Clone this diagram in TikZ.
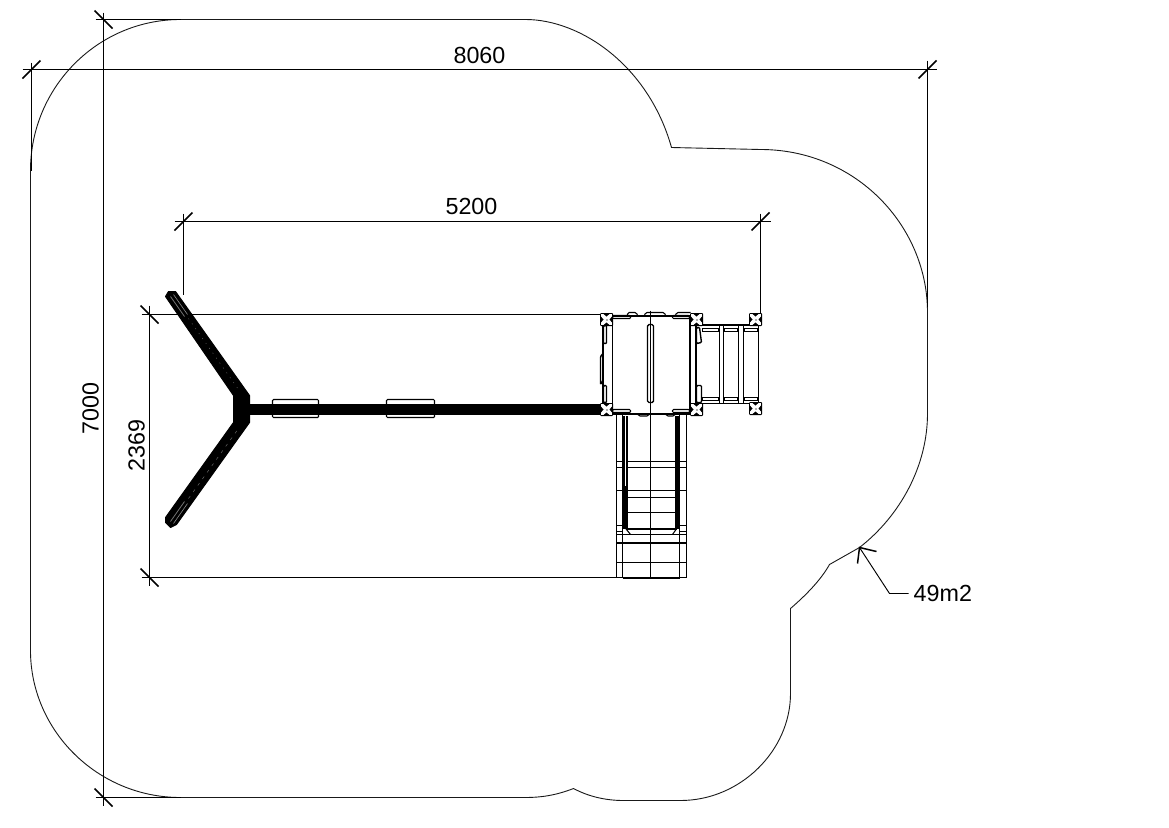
\documentclass[tikz,border=0pt]{standalone}
\usepackage{fontspec}
\setmainfont{Liberation Sans}
\tikzset{
 x=1pt,y=-1pt,
 thinl/.style={line width=0.95pt,black},
 outl/.style={line width=0.9pt,black!90},
 dimtick/.style={line width=1.6pt,black},
 dimtxt/.style={font=\fontsize{23.3}{25}\selectfont,inner sep=0pt},
 heavy/.style={line width=2pt,black},
 med/.style={line width=1.4pt,black},
 fine/.style={line width=1.05pt,black},
}
\newcommand{\corner}[2]{%
 \fill[black,rounded corners=1pt] (#1-6.5,#2-6.5) rectangle (#1+6.5,#2+6.5);
 \fill[white] (#1-5.6,#2-5.6) rectangle (#1+5.6,#2+5.6);
 \fill[black] (#1-3,#2-5.6) -- (#1,#2-3) -- (#1+3,#2-5.6) -- cycle;
 \fill[black] (#1-3,#2+5.6) -- (#1,#2+3) -- (#1+3,#2+5.6) -- cycle;
 \fill[black] (#1-5.6,#2-3) -- (#1-3,#2) -- (#1-5.6,#2+3) -- cycle;
 \fill[black] (#1+5.6,#2-3) -- (#1+3,#2) -- (#1+5.6,#2+3) -- cycle;
 \fill[black!30] (#1-1,#2-1) rectangle (#1+1,#2+1);}
\newcommand{\dtick}[2]{\draw[dimtick] (#1-9,#2+9) -- (#1+9,#2-9);}
\newcommand{\dtickb}[2]{\draw[dimtick] (#1-9,#2-9) -- (#1+9,#2+9);}
\begin{document}
\begin{tikzpicture}
\useasboundingbox (-0.5,-0.5) rectangle (1168.5,826.5);
\fill[white] (-0.5,-0.5) rectangle (1168.5,826.5);
% safety zone outline
\draw[outl] (30,170) .. controls (30,87) and (97,19) .. (180,19) -- (525,19)
 .. controls (580,19) and (648,65) .. (671,147) -- (760,149)
 .. controls (855,149) and (927,225) .. (927,312) -- (927,413)
 .. controls (927,465) and (900,515) .. (859,547)
 -- (829,564) .. controls (820,580) and (805,595) .. (790,608) -- (790,693)
 .. controls (790,750) and (740,800) .. (680,800) -- (623,800)
 .. controls (605,800) and (588,796) .. (573,788)
 .. controls (555,795) and (540,797) .. (525,797) -- (180,797)
 .. controls (97,797) and (30,730) .. (30,650) -- cycle;
% dimensions
\coordinate (a1) at (22,69); \coordinate (a2) at (936,69);
\draw[thinl] (a1) -- (a2);
\draw[thinl] (31,62) -- (31,170);
\draw[thinl] (927,60) -- (927,306);
\dtick{31}{69} \dtick{927}{69}
\node[dimtxt] (t8060) at (479,55) {8060};
\draw[thinl] (103,12) -- (103,805);
\draw[thinl] (95,19) -- (180,19);
\draw[thinl] (95,797) -- (180,797);
\dtickb{103}{19} \dtickb{103}{797}
\node[dimtxt,rotate=90] (t7000) at (90,408) {7000};
\draw[thinl] (174,221) -- (770,221);
\draw[thinl] (183,213) -- (183,294);
\draw[thinl] (760,213) -- (760,315);
\dtick{183}{221} \dtick{760}{221}
\node[dimtxt] (t5200) at (471,206) {5200};
\draw[thinl] (149,305) -- (149,585);
\draw[thinl] (141,314) -- (600,314);
\draw[thinl] (141,577) -- (615,577);
\dtickb{149}{314} \dtickb{149}{577}
\node[dimtxt,rotate=90] (t2369) at (136,445) {2369};
% leader
\node[dimtxt,anchor=west] (t49) at (913,593) {49m2};
\coordinate (tip) at (859,547);
\draw[thinl] (tip) -- (889,593) -- (908,593);
\draw[line width=1.5pt] (876,551) -- (tip) -- (857,563);
% swing seats
\draw[fine,rounded corners=1pt] (272,399) rectangle (318,417);
\draw[fine,rounded corners=1pt] (386,399) rectangle (434,417);
% swing frame
\filldraw[black,line width=1pt,line join=round] (165,296) -- (168,291) -- (175,291) -- (249,395) -- (249,422)
 -- (176,524) -- (170,527) -- (165,522) -- (165,517) -- (233,422) -- (233,395) -- cycle;
\fill[black] (245,403) rectangle (602,414);
\draw[black!55,line width=0.8pt] (170,296) -- (184,316);
\draw[black!45,line width=0.6pt] (173,294) -- (187,314);
\draw[black!55,line width=0.8pt] (170,521) -- (184,501);
\draw[black!45,line width=0.6pt] (173,523) -- (187,503);
\draw[black!60,line width=0.5pt,dash pattern=on 1pt off 5pt] (188,318) -- (238,389);
\draw[black!60,line width=0.5pt,dash pattern=on 3pt off 5pt] (188,498) -- (238,428);
% slide
\draw[med] (616,413) rectangle (686,577);
\draw[med] (622,413) -- (622,577);
\draw[med] (679,413) -- (679,577);
\fill[black] (621.5,415) rectangle (627.5,528);
\fill[black] (674.5,415) rectangle (679.5,528);
\fill[white] (624,415) rectangle (625.5,485);
\foreach \yy in {461,467,490,497,512} \draw[fine] (627,\yy) -- (675,\yy);
\foreach \yy in {461,467,490,525,531} {\draw[fine] (616,\yy) -- (622,\yy); \draw[fine] (679,\yy) -- (686,\yy);}
\draw[heavy] (626,528) -- (676,528);
\draw[fine] (616,534) -- (686,534);
\draw[heavy] (616,542) -- (686,542);
\draw[fine] (616,562) -- (686,562);
\draw[heavy] (622,577) -- (679,577);
\draw[fine] (622,524) -- (630,534); \draw[fine] (679,524) -- (672,534);
\draw[fine] (650,310) -- (650,577);
% stairs / ladder
\draw[heavy] (701,324.5) -- (759,324.5);
\draw[fine] (701,403) -- (758,403);
\draw[med] (758,324) -- (758,403);
\foreach \xx in {719,723,738,743} \draw[med] (\xx,324) -- (\xx,403);
\foreach \xa/\xb in {702/718,724/737,744/757} {
 \draw[fine] (\xa,328) rectangle (\xb,331);
 \draw[fine] (\xa,397) rectangle (\xb,400);}
% platform
\draw[fine,rounded corners=1.5pt] (627,315) -- (627,312) -- (636,312) -- (637,315);
\draw[fine,rounded corners=1.5pt] (644,315) -- (645,312) -- (664,312) -- (665,315);
\draw[fine,rounded corners=1.5pt] (675,315) -- (676,312) -- (690,312);
\draw[fine,rounded corners=1.5pt] (637,413) -- (638,415.5) -- (648,415.5) -- (649,413);
\draw[fine,rounded corners=1.5pt] (665,413) -- (666,415.5) -- (674,415.5) -- (675,413);
\draw[med,rounded corners=1pt] (603,325) -- (606,325) -- (606,343) -- (603,343) -- cycle;
\draw[med,rounded corners=1pt] (603,385) -- (606,385) -- (606,402) -- (603,402) -- cycle;
\draw[med,rounded corners=1pt] (600,356) -- (602.5,353) -- (602.5,380) -- (600,384) -- cycle;
\draw[med,rounded corners=1pt] (696,327) -- (699,327) -- (701,342) -- (696,343) -- cycle;
\draw[med,rounded corners=1pt] (696,385) -- (701,385) -- (701,402) -- (696,402) -- cycle;
\draw[heavy] (602.5,325) -- (602.5,405);
\draw[heavy] (695.5,325) -- (695.5,403);
\draw[med] (612,316) -- (612,413);
\draw[heavy] (689,315) -- (689,413);
\draw[heavy] (610,315) -- (691,315);
\draw[heavy] (600,413) -- (701,413);
\draw[fine,rounded corners=1pt] (612,315) rectangle (630,318);
\draw[fine,rounded corners=1pt] (672,315) rectangle (689,318);
\draw[fine,rounded corners=1pt] (612,409) rectangle (630,412);
\draw[fine,rounded corners=1pt] (672,409) rectangle (689,412);
\draw[med,rounded corners=1.5pt] (647,324) rectangle (653,402);
\corner{606}{319} \corner{696}{319} \corner{606}{409} \corner{696}{409}
\corner{755}{319} \corner{755}{408}
\end{tikzpicture}
\end{document}
